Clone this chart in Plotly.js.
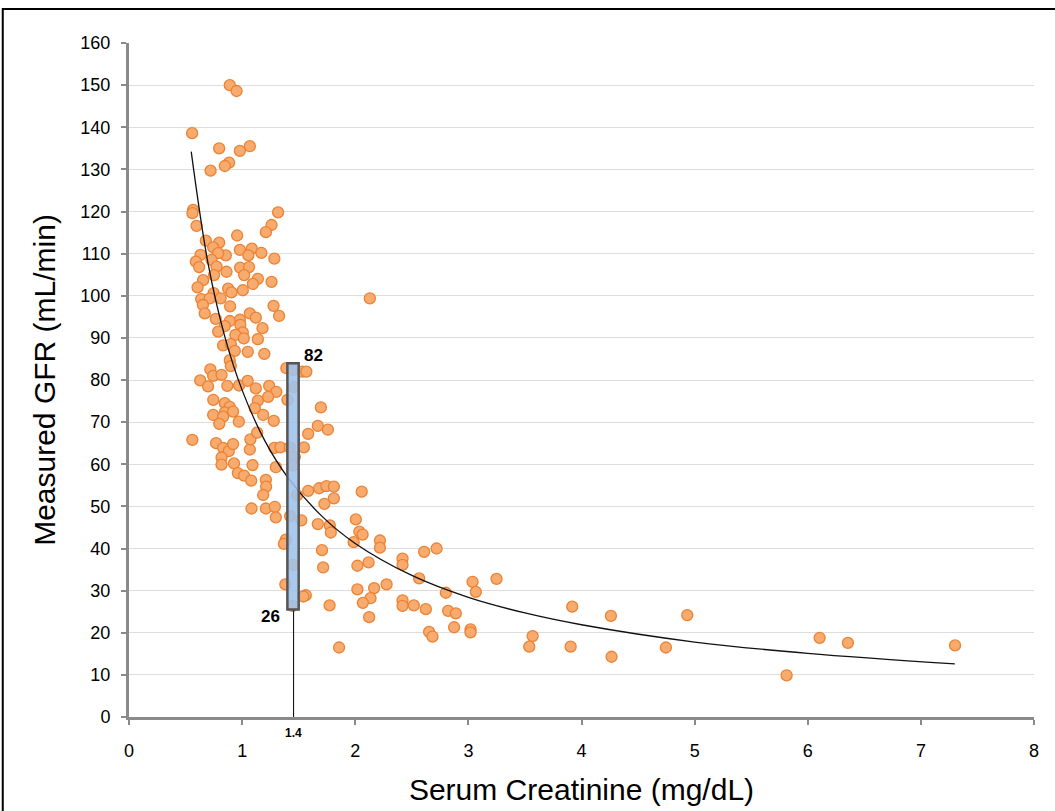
<!DOCTYPE html>
<html>
<head>
<meta charset="utf-8">
<script src="https://cdn.plot.ly/plotly-3.0.1.min.js"></script>
<style>
  html, body { margin: 0; padding: 0; background: #ffffff; }
  #chart { width: 1055px; height: 811px; }
</style>
</head>
<body>
<div id="chart"></div>
<script>
// Serum creatinine (mg/dL) of each subject
const creatinine = [
  0.891,0.951,0.558,0.797,1.068,0.980,0.885,0.847,0.721,0.567,
  0.561,1.318,1.260,1.210,0.597,0.956,0.679,0.797,0.744,0.980,
  1.086,1.170,1.055,0.856,0.788,0.632,0.591,0.620,0.729,1.285,
  0.982,1.061,0.862,0.774,0.752,1.018,1.139,1.260,0.655,0.606,
  1.095,1.006,0.876,0.906,0.748,0.638,0.714,0.810,1.278,0.894,
  1.068,0.653,1.327,0.670,0.767,1.121,0.980,0.891,0.984,0.847,
  0.788,1.006,1.180,0.940,1.015,1.139,0.832,0.900,0.935,1.050,
  1.196,0.891,0.900,1.391,1.451,1.532,1.568,0.719,0.744,0.818,
  0.629,0.699,0.869,0.973,1.049,1.121,1.239,1.302,1.457,1.400,
  0.745,0.847,0.891,0.847,1.139,1.230,1.696,0.920,1.112,0.744,
  0.832,0.971,1.186,1.280,1.669,1.758,0.798,1.584,0.560,0.770,
  0.832,0.882,0.920,0.818,0.818,0.928,1.068,1.073,1.133,1.092,
  0.962,1.017,1.080,1.298,1.285,1.338,1.422,1.466,1.451,1.546,
  1.210,1.212,1.186,1.486,1.584,1.681,1.745,1.811,1.811,1.727,
  2.057,1.083,1.210,1.289,1.298,1.424,1.523,1.669,1.775,1.784,
  2.005,2.036,2.065,1.986,2.218,2.218,1.386,1.369,1.706,1.716,
  2.019,2.118,2.418,2.418,1.451,1.382,1.563,1.541,1.446,1.773,
  2.019,2.167,2.277,2.135,2.067,2.123,2.418,2.418,2.518,1.857,
  2.609,2.719,2.565,2.624,2.801,2.653,2.683,2.821,2.889,2.874,
  3.037,3.066,3.019,3.019,3.249,3.568,3.538,3.918,3.904,4.260,
  4.266,4.746,4.935,5.813,6.105,6.355,7.302,2.129
];
// Measured GFR (mL/min) of each subject
const gfr = [
  150.0,148.6,138.6,135.0,135.5,134.4,131.6,130.8,129.7,120.4,
  119.6,119.8,116.8,115.1,116.6,114.3,113.1,112.6,111.5,110.9,
  111.2,110.2,109.6,109.6,110.1,109.7,108.1,106.8,108.5,108.8,
  106.7,106.8,105.7,106.9,104.9,104.9,104.0,103.3,103.7,102.0,
  102.8,101.3,101.7,100.8,100.6,99.2,99.4,99.4,97.6,97.5,
  95.8,97.8,95.2,95.8,94.5,94.8,94.3,94.0,93.1,92.8,
  91.5,91.3,92.3,90.7,89.9,89.7,88.2,88.5,86.9,86.7,
  86.2,84.7,83.3,82.8,82.4,82.0,82.0,82.5,81.0,81.2,
  79.9,78.5,78.6,78.7,79.8,78.0,78.6,77.2,78.3,75.3,
  75.3,74.5,73.6,72.3,75.1,76.0,73.5,72.5,73.3,71.7,
  71.3,70.1,71.7,70.3,69.1,68.2,69.6,67.2,65.8,65.0,
  63.9,63.1,64.8,61.6,59.9,60.2,63.5,65.9,67.5,59.8,
  57.9,57.3,56.1,59.3,63.9,64.0,64.0,61.7,59.7,64.0,
  56.3,54.7,52.7,52.6,53.7,54.3,54.8,54.7,51.9,50.6,
  53.5,49.5,49.5,49.9,47.4,47.7,46.7,45.8,45.5,43.8,
  46.9,44.0,43.3,41.5,41.9,40.2,42.1,41.1,39.6,35.5,
  35.9,36.7,37.6,36.1,36.1,31.5,28.9,28.6,26.4,26.5,
  30.3,30.6,31.5,28.2,27.1,23.7,27.7,26.4,26.5,16.5,
  39.2,40.0,32.9,25.6,29.5,20.2,19.1,25.2,24.6,21.3,
  32.1,29.7,20.8,20.1,32.8,19.2,16.7,26.2,16.7,24.0,
  14.3,16.5,24.2,9.9,18.8,17.6,17.0,99.4
];
// Fitted trend curve
const trendX = [0.55,0.7,0.85,1.0,1.2,1.4,1.7,2.0,2.5,3.0,3.5,4.0,5.0,6.0,7.3];
const trendY = [134.2,107.5,90.0,77.6,65.6,57.0,47.8,41.2,33.6,28.4,24.7,21.9,17.8,15.1,12.6];
// GFR range box at the creatinine cut-off
const cutoffCreat = 1.455;
const cutoffLabel = "1.4";
const boxCreat = [1.40, 1.50];
const boxGFR = [25.5, 84];
const boxLabels = ["26", "82"];
// Axis ticks
const xTicks = [0,1,2,3,4,5,6,7,8];
const yTicks = [0,10,20,30,40,50,60,70,80,90,100,110,120,130,140,150,160];

const font = "Liberation Sans, Arial, Helvetica, sans-serif";

const traces = [
  {
    type: "scatter", mode: "markers",
    x: creatinine, y: gfr,
    marker: { size: 11, color: "#f8ab6e", line: { color: "#ec8233", width: 1.3 } },
    hoverinfo: "x+y", showlegend: false
  },
  {
    type: "scatter", mode: "lines",
    x: trendX, y: trendY,
    line: { color: "#111111", width: 1.3, shape: "spline", smoothing: 1 },
    hoverinfo: "skip", showlegend: false
  }
];

const layout = {
  width: 1055, height: 811,
  margin: { l: 129, r: 21, t: 43, b: 94 },
  paper_bgcolor: "#ffffff", plot_bgcolor: "#ffffff",
  showlegend: false,
  font: { family: font, color: "#000000" },
  xaxis: {
    range: [0, 8], tickvals: xTicks, ticktext: xTicks.map(String),
    showgrid: false, zeroline: false,
    showline: true, linecolor: "#8a8a8a", linewidth: 3,
    ticks: "outside", ticklen: 5, tickwidth: 2, tickcolor: "#8a8a8a",
    ticklabelstandoff: 10,
    tickfont: { size: 18, family: font, color: "#000" },
    title: { text: "Serum Creatinine (mg/dL)", font: { size: 30, family: font, color: "#000" }, standoff: 20 }
  },
  yaxis: {
    range: [0, 160], tickvals: yTicks, ticktext: yTicks.map(String),
    showgrid: true, gridcolor: "#dddddd", gridwidth: 1, zeroline: false,
    showline: true, linecolor: "#8a8a8a", linewidth: 3,
    ticks: "outside", ticklen: 5, tickwidth: 2, tickcolor: "#8a8a8a",
    ticklabelstandoff: 7,
    tickfont: { size: 18, family: font, color: "#000" },
    title: { text: "Measured GFR (mL/min)", font: { size: 30, family: font, color: "#000" }, standoff: 16 }
  },
  shapes: [
    { type: "line", xref: "x", yref: "y", x0: cutoffCreat, x1: cutoffCreat, y0: -1.5, y1: boxGFR[0],
      line: { color: "#000000", width: 1 }, layer: "above" },
    { type: "rect", xref: "x", yref: "y", x0: boxCreat[0], x1: boxCreat[1], y0: boxGFR[0], y1: boxGFR[1],
      fillcolor: "rgba(158,194,236,0.88)", line: { color: "#555555", width: 2.5 }, layer: "above" },
    { type: "rect", xref: "paper", yref: "paper", x0: -0.1395, x1: 1.2, y0: -0.3, y1: 1.0505,
      fillcolor: "rgba(0,0,0,0)", line: { color: "#000000", width: 2 }, layer: "above" }
  ],
  annotations: [
    { xref: "x", yref: "y", x: boxCreat[1] + 0.03, y: boxGFR[1] - 0.8, text: "<b>" + boxLabels[1] + "</b>",
      showarrow: false, xanchor: "left", yanchor: "bottom", font: { size: 17, family: font, color: "#000" } },
    { xref: "x", yref: "y", x: boxCreat[0] - 0.05, y: boxGFR[0] + 1.0, text: "<b>" + boxLabels[0] + "</b>",
      showarrow: false, xanchor: "right", yanchor: "top", font: { size: 17, family: font, color: "#000" } },
    { xref: "x", yref: "paper", x: cutoffCreat, y: -0.011, text: "<b>" + cutoffLabel + "</b>",
      showarrow: false, xanchor: "center", yanchor: "top", font: { size: 12, family: font, color: "#000" } }
  ]
};

Plotly.newPlot("chart", traces, layout, { displayModeBar: false, staticPlot: true });
</script>
</body>
</html>
